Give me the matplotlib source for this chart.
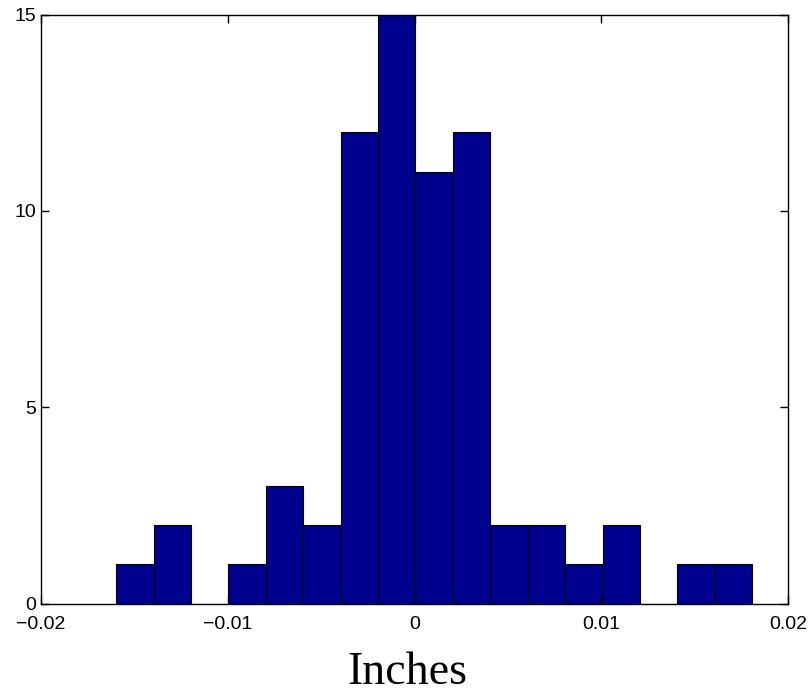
import numpy as np
import matplotlib
matplotlib.use('Agg')
import matplotlib.pyplot as plt

# histogram counts (17 bins)
counts = [1, 2, 0, 1, 3, 2, 12, 15, 11, 12, 2, 2, 1, 2, 0, 1, 1]
bin_lo = -0.01597
bin_hi = 0.01808
xticks = [-0.02, -0.01, 0, 0.01, 0.02]
xtick_labels = ['\u22120.02', '\u22120.01', '0', '0.01', '0.02']
yticks = [0, 5, 10, 15]

edges = np.linspace(bin_lo, bin_hi, len(counts) + 1)
widths = np.diff(edges)

fig = plt.figure(figsize=(8.09, 6.93), dpi=100)
ax = fig.add_axes([41/809, 1 - 603.5/693, (788-41)/809, (603.5-14.5)/693])

ax.bar(edges[:-1], counts, width=widths, align='edge',
       color='#00008F', edgecolor='black', linewidth=0.8)

ax.set_xlim(-0.02, 0.02)
ax.set_ylim(0, 15)
ax.set_xticks(xticks)
ax.set_xticklabels(xtick_labels)
ax.set_yticks(yticks)
ax.tick_params(direction='in', top=True, right=True, length=5.5, width=1,
               labelsize=14)
ax.tick_params(axis='x', pad=9)
ax.tick_params(axis='y', pad=3.5)
for lab in ax.get_xticklabels() + ax.get_yticklabels():
    lab.set_family('Liberation Sans')
for s in ax.spines.values():
    s.set_linewidth(1)

ax.set_xlabel('Inches', family='Liberation Serif', fontsize=33)
ax.xaxis.set_label_coords(0.4906, -0.1367, transform=ax.transAxes)
ax.xaxis.label.set_va('baseline')

fig.savefig('out.png', dpi=100)
